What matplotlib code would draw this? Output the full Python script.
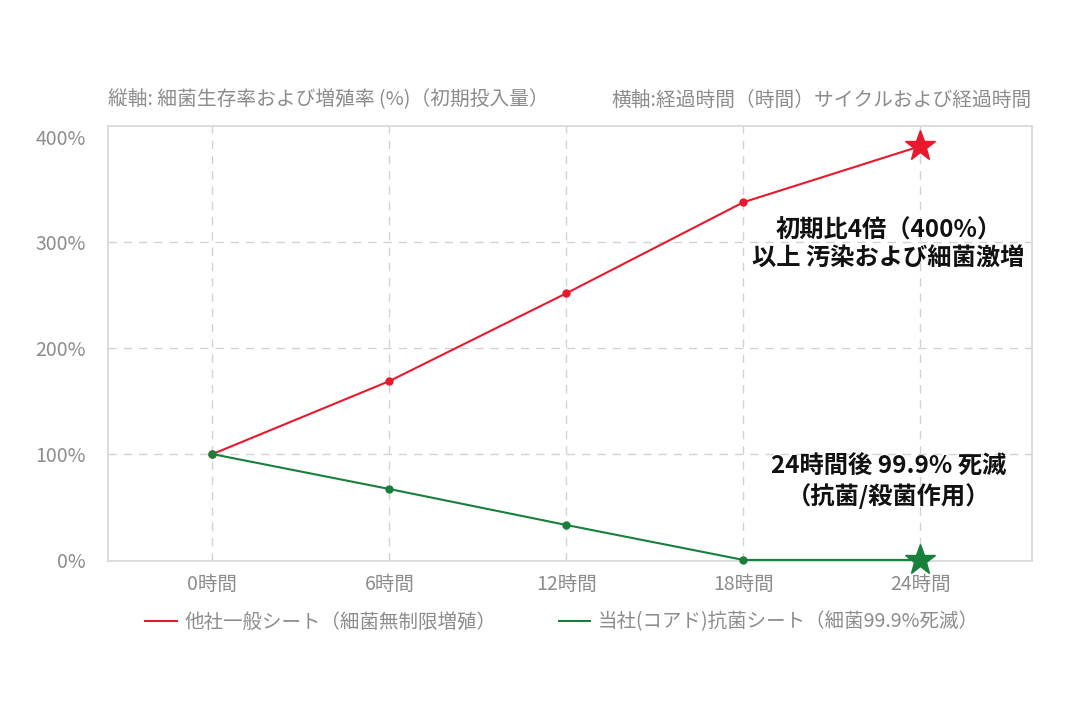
import matplotlib.pyplot as plt

plt.rcParams['font.family'] = ['Noto Sans CJK JP', 'DejaVu Sans']

# データ
hours = ['0時間', '6時間', '12時間', '18時間', '24時間']
other_sheet = [100, 169, 252, 338, 391]
our_sheet = [100, 67, 33, 0, 0]
y_ticks = [0, 100, 200, 300, 400]
y_labels = ['0%', '100%', '200%', '300%', '400%']

red = '#e8192c'
green = '#17803a'
grey = '#8c8c8c'

fig = plt.figure(figsize=(10.73, 7.12), dpi=100)
ax = fig.add_axes([108 / 1073, 1 - 561 / 712, (1032 - 108) / 1073, (561 - 126) / 712])

x = list(range(len(hours)))

# グリッド（0% と 400% には引かない）
for v in y_ticks[1:-1]:
    ax.axhline(v, ls=(0, (6, 5)), color='#d2d2d2', lw=1, zorder=0)
for v in x:
    ax.axvline(v, ls=(0, (6, 5)), color='#d2d2d2', lw=1, zorder=0)

ax.plot(x, other_sheet, '-', color=red, lw=1.5, label='他社一般シート（細菌無制限増殖）', zorder=3)
ax.plot(x[:-1], other_sheet[:-1], 'o', color=red, ms=5, zorder=4)
ax.plot(x[-1], other_sheet[-1], '*', color=red, ms=23, mec=red, zorder=5, clip_on=False)

ax.plot(x, our_sheet, '-', color=green, lw=1.5, label='当社(コアド)抗菌シート（細菌99.9%死滅）',
        zorder=3, clip_on=False)
ax.plot(x[:-1], our_sheet[:-1], 'o', color=green, ms=5, zorder=4, clip_on=False)
ax.plot(x[-1], our_sheet[-1], '*', color=green, ms=23, mec=green, zorder=5, clip_on=False)

ax.set_xlim(-0.59, 4.63)
ax.set_ylim(-1, 410)
ax.set_xticks(x)
ax.set_xticklabels(hours)
ax.set_yticks(y_ticks)
ax.set_yticklabels(y_labels)
ax.tick_params(length=0, labelsize=14, labelcolor=grey)
ax.tick_params(axis='y', pad=16)
ax.tick_params(axis='x', pad=9)

for s in ax.spines.values():
    s.set_color('#d5d5d5')
    s.set_linewidth(1.2)

# 注記
ax.text(3.82, 298, '初期比4倍（400%）\n以上 汚染および細菌激増', ha='center', va='center',
        fontsize=17.5, fontweight='bold', color='#111111', linespacing=1.25)
ax.text(3.82, 74, '24時間後 99.9% 死滅\n（抗菌/殺菌作用）', ha='center', va='center',
        fontsize=17.5, fontweight='bold', color='#111111', linespacing=1.2)

# 軸の説明
fig.text(108 / 1073, 1 - 100 / 712, '縦軸: 細菌生存率および増殖率 (%)（初期投入量）',
         ha='left', va='center', fontsize=14.2, color=grey)
fig.text(1032 / 1073, 1 - 100 / 712, '横軸:経過時間（時間）サイクルおよび経過時間',
         ha='right', va='center', fontsize=14.2, color=grey)

leg = fig.legend(loc='center', bbox_to_anchor=(562 / 1073, 1 - 622 / 712), ncol=2,
                 frameon=False, fontsize=14, handlelength=1.6, handletextpad=0.4,
                 columnspacing=3.2)
for t in leg.get_texts():
    t.set_color(grey)

fig.savefig('out.png', dpi=100)
